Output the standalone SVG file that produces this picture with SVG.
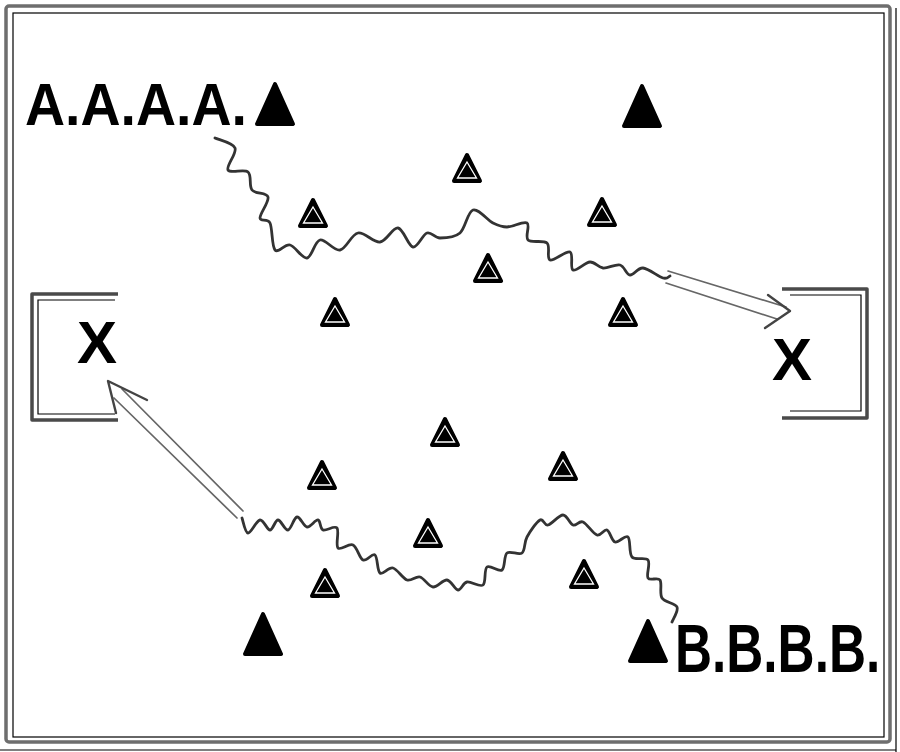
<svg xmlns="http://www.w3.org/2000/svg" xmlns:xlink="http://www.w3.org/1999/xlink" width="900" height="752" viewBox="0 0 900 752">
<style>
.lbl{font-family:"Liberation Sans",Arial,sans-serif;font-weight:bold;fill:#000}
.frameG{fill:none;stroke:#6e6e6e;stroke-width:3.5;stroke-linejoin:round}
.goalG{fill:none;stroke:#4a4a4a;stroke-width:3.5;stroke-linejoin:round}
.thin{fill:none;stroke:#000;stroke-width:1.2}
.wave{fill:none;stroke:#333;stroke-width:2.8;stroke-linejoin:round;stroke-linecap:round}
.shaft{fill:none;stroke:#666;stroke-width:1.7;stroke-linecap:round}
.head{fill:none;stroke:#444;stroke-width:2.4;stroke-linecap:round;stroke-linejoin:round}
</style>
<defs>
<g id="cone">
<polygon points="0,-13 13,13 -13,13" fill="#000" stroke="#000" stroke-width="4" stroke-linejoin="round"/>
<polygon points="0,-6 9.5,10 -9.5,10" fill="none" stroke="#fff" stroke-width="1.3"/>
</g>
<g id="bigtri">
<polygon points="0,-20 18,20 -18,20" fill="#000" stroke="#000" stroke-width="4" stroke-linejoin="round"/>
</g>
</defs>
<rect width="900" height="752" fill="#fff"/>
<g id="frame">
<rect class="frameG" x="6" y="6" width="884" height="736" rx="3"/>
<rect class="thin" x="13" y="13" width="871" height="724"/>
<path class="thin" d="M896,8 V752 M0,750 H896" stroke-width="1"/>
</g>
<g id="goal-left">
<path class="goalG" d="M118,294 H32 V420 H118"/>
<path class="thin" d="M115,300 H38 V414 H115"/>
<text class="lbl" x="97" y="363" font-size="60" text-anchor="middle">X</text>
</g>
<g id="goal-right">
<path class="goalG" d="M782,289 H867 V418 H782"/>
<path class="thin" d="M790,295 H861 V411 H790"/>
<text class="lbl" x="792" y="380" font-size="60" text-anchor="middle">X</text>
</g>
<g id="team-a">
<text class="lbl" x="25" y="125" font-size="60" textLength="222" lengthAdjust="spacingAndGlyphs">A.A.A.A.</text>
</g>
<g id="team-b">
<text class="lbl" font-size="54" transform="translate(675,672) scale(0.95,1.26)">B.B.B.B.</text>
</g>
<g id="marker-tl"><use xlink:href="#bigtri" x="275" y="104"/></g>
<g id="marker-tr"><use xlink:href="#bigtri" x="642" y="106"/></g>
<g id="marker-bl"><use xlink:href="#bigtri" x="263" y="634"/></g>
<g id="marker-br"><use xlink:href="#bigtri" x="648" y="641"/></g>
<g id="cone1"><use xlink:href="#cone" x="313" y="213"/></g>
<g id="cone2"><use xlink:href="#cone" x="467" y="168"/></g>
<g id="cone3"><use xlink:href="#cone" x="602" y="212"/></g>
<g id="cone4"><use xlink:href="#cone" x="488" y="268"/></g>
<g id="cone5"><use xlink:href="#cone" x="335" y="312"/></g>
<g id="cone6"><use xlink:href="#cone" x="623" y="312"/></g>
<g id="cone7"><use xlink:href="#cone" x="445" y="432"/></g>
<g id="cone8"><use xlink:href="#cone" x="322" y="475"/></g>
<g id="cone9"><use xlink:href="#cone" x="563" y="466"/></g>
<g id="cone10"><use xlink:href="#cone" x="428" y="533"/></g>
<g id="cone11"><use xlink:href="#cone" x="325" y="583"/></g>
<g id="cone12"><use xlink:href="#cone" x="584" y="574"/></g>
<g id="connectors">
<path class="wave" d="M215,138 C218.3,139.7 232.8,142.7 235,148 C237.2,153.3 225.8,166 228,170 C230.2,174 244,168.7 248,172 C252,175.3 248.7,185.8 252,190 C255.3,194.2 266.7,192.3 268,197 C269.3,201.7 259.7,213.7 260,218 C260.3,222.3 267.5,217.7 270,223 C272.5,228.3 271.7,246.3 275,250 C278.3,253.7 284.7,243.7 290,245 C295.3,246.3 302,258.8 307,258 C312,257.2 314.5,241.3 320,240 C325.5,238.7 333.7,251.2 340,250 C346.3,248.8 351.3,234.3 358,233 C364.7,231.7 373.3,242.8 380,242 C386.7,241.2 392.5,227.2 398,228 C403.5,228.8 408.2,246.2 413,247 C417.8,247.8 422.5,234.5 427,233 C431.5,231.5 434.5,238 440,238 C445.5,238 454.5,237.7 460,233 C465.5,228.3 467.5,211.7 473,210 C478.5,208.3 487.3,220.2 493,223 C498.7,225.8 501.3,227 507,227 C512.7,227 523.5,220.8 527,223 C530.5,225.2 524.7,236.7 528,240 C531.3,243.3 543.3,239.7 547,243 C550.7,246.3 546.2,258.5 550,260 C553.8,261.5 566.2,250.3 570,252 C573.8,253.7 569.7,268.3 573,270 C576.3,271.7 585,262.3 590,262 C595,261.7 598,267.5 603,268 C608,268.5 615.5,263.8 620,265 C624.5,266.2 626.2,274.5 630,275 C633.8,275.5 637.5,267.5 643,268 C648.5,268.5 658.5,276.7 663,278 C667.5,279.3 668.8,276.3 670,276"/>
<path class="shaft" d="M668,271 L786,307 M666,283 L777,319"/>
<path class="head" d="M768,295 L790,311 L765,328"/>
<path class="wave" d="M242,518 C243,520.5 245,532.7 248,533 C251,533.3 256.3,520.5 260,520 C263.7,519.5 267,530 270,530 C273,530 275,520 278,520 C281,520 284.8,530.5 288,530 C291.2,529.5 293.8,517.5 297,517 C300.2,516.5 303.5,526.5 307,527 C310.5,527.5 315.3,519.5 318,520 C320.7,520.5 319.8,528.7 323,530 C326.2,531.3 334.5,525 337,528 C339.5,531 335.3,545.2 338,548 C340.7,550.8 348.8,543 353,545 C357.2,547 359.3,558.3 363,560 C366.7,561.7 372.2,552.8 375,555 C377.8,557.2 377,570.8 380,573 C383,575.2 388.5,566.8 393,568 C397.5,569.2 402.5,578.5 407,580 C411.5,581.5 415.7,575.8 420,577 C424.3,578.2 428.5,586.5 433,587 C437.5,587.5 442.8,579.5 447,580 C451.2,580.5 454.7,589.7 458,590 C461.3,590.3 462.8,582.8 467,582 C471.2,581.2 479.7,587.5 483,585 C486.3,582.5 483.8,569.5 487,567 C490.2,564.5 498.7,572.3 502,570 C505.3,567.7 503.7,555.8 507,553 C510.3,550.2 518.7,555.7 522,553 C525.3,550.3 524,542.5 527,537 C530,531.5 536.5,522 540,520 C543.5,518 544.2,525.8 548,525 C551.8,524.2 558.8,515 563,515 C567.2,515 569.7,523.8 573,525 C576.3,526.2 579,520.3 583,522 C587,523.7 593,533.7 597,535 C601,536.3 604,528.8 607,530 C610,531.2 611.5,540.8 615,542 C618.5,543.2 625.2,534.5 628,537 C630.8,539.5 628.7,553.2 632,557 C635.3,560.8 645.3,556.5 648,560 C650.7,563.5 646,574.7 648,578 C650,581.3 657.7,576.7 660,580 C662.3,583.3 659.2,593.5 662,598 C664.8,602.5 675.3,603 677,607 C678.7,611 672.8,619.5 672,622"/>
<path class="shaft" d="M243,511 L122,389 M237,518 L114,398"/>
<path class="head" d="M147,400 L108,381 L116,413"/>
</g>
</svg>
